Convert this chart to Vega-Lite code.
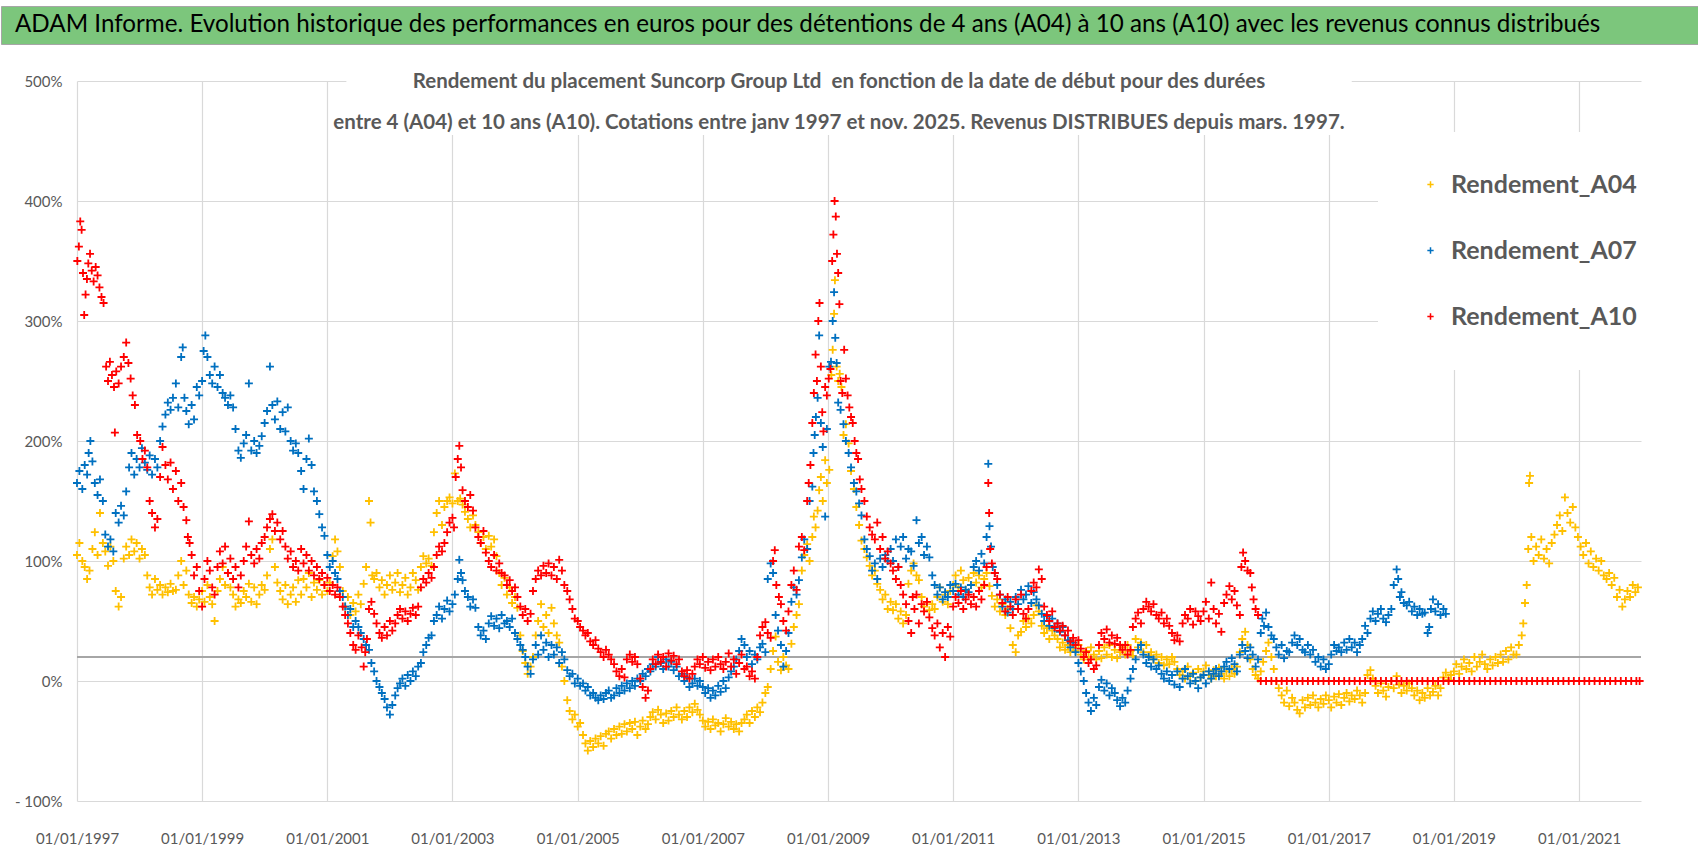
{
"$schema": "https://vega.github.io/schema/vega-lite/v6.json",
"padding": {"left": 0, "right": 0, "top": 5, "bottom": 0},
"background": "white",
"spacing": 14,
"config": {"view": {"stroke": null}, "font": "Lato"},
"datasets": {
"a04": [
{"d":"1997-01-01","v":105},{"d":"1997-01-15","v":115},{"d":"1997-02-01","v":100},{"d":"1997-02-15","v":95},{"d":"1997-03-01","v":85},{"d":"1997-03-15","v":92},{"d":"1997-04-01","v":110},{"d":"1997-04-15","v":124},{"d":"1997-05-01","v":105},{"d":"1997-05-15","v":140},{"d":"1997-06-01","v":115},{"d":"1997-06-15","v":108},{"d":"1997-07-01","v":96},{"d":"1997-07-15","v":112},{"d":"1997-08-01","v":100},{"d":"1997-08-15","v":75},{"d":"1997-09-01","v":62},{"d":"1997-09-15","v":70},{"d":"1997-10-01","v":102},{"d":"1997-10-15","v":112},{"d":"1997-11-01","v":105},{"d":"1997-11-15","v":118},{"d":"1997-12-01","v":108},{"d":"1997-12-15","v":115},
{"d":"1998-01-01","v":102},{"d":"1998-01-15","v":110},{"d":"1998-02-01","v":105},{"d":"1998-02-15","v":88},{"d":"1998-03-01","v":78},{"d":"1998-03-15","v":72},{"d":"1998-04-01","v":85},{"d":"1998-04-15","v":76},{"d":"1998-05-01","v":80},{"d":"1998-05-15","v":72},{"d":"1998-06-01","v":78},{"d":"1998-06-15","v":74},{"d":"1998-07-01","v":81},{"d":"1998-07-15","v":75},{"d":"1998-08-01","v":76},{"d":"1998-08-15","v":88},{"d":"1998-09-01","v":100},{"d":"1998-09-15","v":80},{"d":"1998-10-01","v":92},{"d":"1998-10-15","v":72},{"d":"1998-11-01","v":65},{"d":"1998-11-15","v":70},{"d":"1998-12-01","v":62},{"d":"1998-12-15","v":68},
{"d":"1999-01-01","v":75},{"d":"1999-01-15","v":66},{"d":"1999-02-01","v":80},{"d":"1999-02-15","v":70},{"d":"1999-03-01","v":64},{"d":"1999-03-15","v":50},{"d":"1999-04-01","v":75},{"d":"1999-04-15","v":85},{"d":"1999-05-01","v":95},{"d":"1999-05-15","v":80},{"d":"1999-06-01","v":90},{"d":"1999-06-15","v":78},{"d":"1999-07-01","v":72},{"d":"1999-07-15","v":62},{"d":"1999-08-01","v":68},{"d":"1999-08-15","v":65},{"d":"1999-09-01","v":75},{"d":"1999-09-15","v":70},{"d":"1999-10-01","v":81},{"d":"1999-10-15","v":66},{"d":"1999-11-01","v":78},{"d":"1999-11-15","v":64},{"d":"1999-12-01","v":72},{"d":"1999-12-15","v":80},
{"d":"2000-01-01","v":76},{"d":"2000-01-15","v":88},{"d":"2000-02-01","v":110},{"d":"2000-02-15","v":118},{"d":"2000-03-01","v":95},{"d":"2000-03-15","v":82},{"d":"2000-04-01","v":75},{"d":"2000-04-15","v":68},{"d":"2000-05-01","v":80},{"d":"2000-05-15","v":64},{"d":"2000-06-01","v":72},{"d":"2000-06-15","v":78},{"d":"2000-07-01","v":66},{"d":"2000-07-15","v":84},{"d":"2000-08-01","v":72},{"d":"2000-08-15","v":85},{"d":"2000-09-01","v":78},{"d":"2000-09-15","v":90},{"d":"2000-10-01","v":70},{"d":"2000-10-15","v":82},{"d":"2000-11-01","v":76},{"d":"2000-11-15","v":84},{"d":"2000-12-01","v":72},{"d":"2000-12-15","v":80},
{"d":"2001-01-01","v":75},{"d":"2001-01-15","v":82},{"d":"2001-02-01","v":104},{"d":"2001-02-15","v":118},{"d":"2001-03-01","v":108},{"d":"2001-03-15","v":95},{"d":"2001-04-01","v":75},{"d":"2001-04-15","v":62},{"d":"2001-05-01","v":70},{"d":"2001-05-15","v":55},{"d":"2001-06-01","v":65},{"d":"2001-06-15","v":58},{"d":"2001-07-01","v":72},{"d":"2001-07-15","v":64},{"d":"2001-08-01","v":81},{"d":"2001-08-15","v":95},{"d":"2001-09-01","v":150},{"d":"2001-09-10","v":132},{"d":"2001-09-20","v":88},{"d":"2001-10-01","v":85},{"d":"2001-10-15","v":90},{"d":"2001-11-01","v":78},{"d":"2001-11-15","v":84},{"d":"2001-12-01","v":72},{"d":"2001-12-15","v":80},
{"d":"2002-01-01","v":88},{"d":"2002-01-15","v":76},{"d":"2002-02-01","v":82},{"d":"2002-02-15","v":90},{"d":"2002-03-01","v":74},{"d":"2002-03-15","v":80},{"d":"2002-04-01","v":86},{"d":"2002-04-15","v":72},{"d":"2002-05-01","v":78},{"d":"2002-05-15","v":90},{"d":"2002-06-01","v":84},{"d":"2002-06-15","v":76},{"d":"2002-07-01","v":95},{"d":"2002-07-15","v":104},{"d":"2002-08-01","v":98},{"d":"2002-08-15","v":102},{"d":"2002-09-01","v":96},{"d":"2002-09-15","v":124},{"d":"2002-10-01","v":140},{"d":"2002-10-15","v":150},{"d":"2002-11-01","v":130},{"d":"2002-11-15","v":145},{"d":"2002-12-01","v":150},{"d":"2002-12-15","v":153},
{"d":"2003-01-01","v":148},{"d":"2003-01-15","v":173},{"d":"2003-02-01","v":150},{"d":"2003-02-15","v":152},{"d":"2003-03-01","v":147},{"d":"2003-03-15","v":141},{"d":"2003-04-01","v":135},{"d":"2003-04-15","v":128},{"d":"2003-05-01","v":138},{"d":"2003-05-15","v":130},{"d":"2003-06-01","v":124},{"d":"2003-06-15","v":115},{"d":"2003-07-01","v":120},{"d":"2003-07-15","v":110},{"d":"2003-08-01","v":121},{"d":"2003-08-15","v":112},{"d":"2003-09-01","v":118},{"d":"2003-09-15","v":104},{"d":"2003-10-01","v":90},{"d":"2003-10-15","v":80},{"d":"2003-11-01","v":86},{"d":"2003-11-15","v":72},{"d":"2003-12-01","v":78},{"d":"2003-12-15","v":65},
{"d":"2004-01-01","v":70},{"d":"2004-01-15","v":61},{"d":"2004-02-01","v":38},{"d":"2004-02-15","v":25},{"d":"2004-03-01","v":15},{"d":"2004-03-15","v":6},{"d":"2004-04-01","v":12},{"d":"2004-04-15","v":20},{"d":"2004-05-01","v":38},{"d":"2004-05-15","v":50},{"d":"2004-06-01","v":64},{"d":"2004-06-15","v":45},{"d":"2004-07-01","v":55},{"d":"2004-07-15","v":40},{"d":"2004-08-01","v":61},{"d":"2004-08-15","v":48},{"d":"2004-09-01","v":38},{"d":"2004-09-15","v":32},{"d":"2004-10-01","v":12},{"d":"2004-10-15","v":0},{"d":"2004-11-01","v":-16},{"d":"2004-11-15","v":-25},{"d":"2004-12-01","v":-32},{"d":"2004-12-15","v":-28},
{"d":"2005-01-01","v":-38},{"d":"2005-01-15","v":-35},{"d":"2005-02-01","v":-45},{"d":"2005-02-15","v":-52},{"d":"2005-03-01","v":-58},{"d":"2005-03-15","v":-50},{"d":"2005-04-01","v":-55},{"d":"2005-04-15","v":-48},{"d":"2005-05-01","v":-52},{"d":"2005-05-15","v":-46},{"d":"2005-06-01","v":-54},{"d":"2005-06-15","v":-44},{"d":"2005-07-01","v":-42},{"d":"2005-07-15","v":-48},{"d":"2005-08-01","v":-40},{"d":"2005-08-15","v":-45},{"d":"2005-09-01","v":-38},{"d":"2005-09-15","v":-44},{"d":"2005-10-01","v":-36},{"d":"2005-10-15","v":-42},{"d":"2005-11-01","v":-35},{"d":"2005-11-15","v":-40},{"d":"2005-12-01","v":-34},{"d":"2005-12-15","v":-45},
{"d":"2006-01-01","v":-38},{"d":"2006-01-15","v":-33},{"d":"2006-02-01","v":-40},{"d":"2006-02-15","v":-36},{"d":"2006-03-01","v":-30},{"d":"2006-03-15","v":-26},{"d":"2006-04-01","v":-32},{"d":"2006-04-15","v":-24},{"d":"2006-05-01","v":-28},{"d":"2006-05-15","v":-35},{"d":"2006-06-01","v":-27},{"d":"2006-06-15","v":-33},{"d":"2006-07-01","v":-25},{"d":"2006-07-15","v":-30},{"d":"2006-08-01","v":-22},{"d":"2006-08-15","v":-28},{"d":"2006-09-01","v":-32},{"d":"2006-09-15","v":-25},{"d":"2006-10-01","v":-30},{"d":"2006-10-15","v":-22},{"d":"2006-11-01","v":-26},{"d":"2006-11-15","v":-19},{"d":"2006-12-01","v":-24},{"d":"2006-12-15","v":-28},
{"d":"2007-01-01","v":-33},{"d":"2007-01-15","v":-38},{"d":"2007-02-01","v":-34},{"d":"2007-02-15","v":-40},{"d":"2007-03-01","v":-32},{"d":"2007-03-15","v":-37},{"d":"2007-04-01","v":-35},{"d":"2007-04-15","v":-42},{"d":"2007-05-01","v":-36},{"d":"2007-05-15","v":-31},{"d":"2007-06-01","v":-38},{"d":"2007-06-15","v":-34},{"d":"2007-07-01","v":-40},{"d":"2007-07-15","v":-36},{"d":"2007-08-01","v":-42},{"d":"2007-08-15","v":-35},{"d":"2007-09-01","v":-32},{"d":"2007-09-15","v":-28},{"d":"2007-10-01","v":-35},{"d":"2007-10-15","v":-25},{"d":"2007-11-01","v":-30},{"d":"2007-11-15","v":-22},{"d":"2007-12-01","v":-26},{"d":"2007-12-15","v":-18},
{"d":"2008-01-01","v":-10},{"d":"2008-01-15","v":-5},{"d":"2008-02-01","v":10},{"d":"2008-02-15","v":25},{"d":"2008-03-01","v":37},{"d":"2008-03-15","v":16},{"d":"2008-04-01","v":9},{"d":"2008-04-15","v":20},{"d":"2008-05-01","v":13},{"d":"2008-05-15","v":10},{"d":"2008-06-01","v":31},{"d":"2008-06-15","v":45},{"d":"2008-07-01","v":55},{"d":"2008-07-15","v":64},{"d":"2008-08-01","v":92},{"d":"2008-08-15","v":105},{"d":"2008-09-01","v":114},{"d":"2008-09-15","v":100},{"d":"2008-10-01","v":120},{"d":"2008-10-10","v":137},{"d":"2008-10-20","v":128},{"d":"2008-11-01","v":142},{"d":"2008-11-10","v":159},{"d":"2008-11-20","v":170},{"d":"2008-12-01","v":150},{"d":"2008-12-15","v":184},{"d":"2008-12-25","v":165},
{"d":"2009-01-08","v":176},{"d":"2009-01-20","v":255},{"d":"2009-01-28","v":276},{"d":"2009-02-05","v":306},{"d":"2009-02-10","v":334},{"d":"2009-02-20","v":262},{"d":"2009-03-01","v":250},{"d":"2009-03-10","v":256},{"d":"2009-03-20","v":245},{"d":"2009-04-01","v":205},{"d":"2009-04-15","v":214},{"d":"2009-05-01","v":198},{"d":"2009-05-15","v":175},{"d":"2009-06-01","v":160},{"d":"2009-06-15","v":145},{"d":"2009-07-01","v":130},{"d":"2009-07-15","v":117},{"d":"2009-08-01","v":110},{"d":"2009-08-15","v":103},{"d":"2009-09-01","v":96},{"d":"2009-09-15","v":88},{"d":"2009-10-01","v":92},{"d":"2009-10-15","v":81},{"d":"2009-11-01","v":76},{"d":"2009-11-15","v":68},{"d":"2009-12-01","v":72},{"d":"2009-12-15","v":60},
{"d":"2010-01-01","v":66},{"d":"2010-01-15","v":59},{"d":"2010-02-01","v":64},{"d":"2010-02-15","v":52},{"d":"2010-03-01","v":58},{"d":"2010-03-15","v":48},{"d":"2010-04-01","v":55},{"d":"2010-04-15","v":81},{"d":"2010-05-01","v":92},{"d":"2010-05-15","v":98},{"d":"2010-06-01","v":88},{"d":"2010-06-15","v":84},{"d":"2010-07-01","v":70},{"d":"2010-07-15","v":62},{"d":"2010-08-01","v":66},{"d":"2010-08-15","v":59},{"d":"2010-09-01","v":64},{"d":"2010-09-15","v":60},{"d":"2010-10-01","v":70},{"d":"2010-10-15","v":78},{"d":"2010-11-01","v":66},{"d":"2010-11-15","v":72},{"d":"2010-12-01","v":64},{"d":"2010-12-15","v":75},
{"d":"2011-01-01","v":80},{"d":"2011-01-15","v":88},{"d":"2011-02-01","v":78},{"d":"2011-02-15","v":92},{"d":"2011-03-01","v":84},{"d":"2011-03-15","v":76},{"d":"2011-04-01","v":86},{"d":"2011-04-15","v":80},{"d":"2011-05-01","v":90},{"d":"2011-05-15","v":82},{"d":"2011-06-01","v":88},{"d":"2011-06-15","v":78},{"d":"2011-07-01","v":85},{"d":"2011-07-15","v":90},{"d":"2011-08-01","v":79},{"d":"2011-08-15","v":71},{"d":"2011-09-01","v":62},{"d":"2011-09-15","v":68},{"d":"2011-10-01","v":58},{"d":"2011-10-15","v":64},{"d":"2011-11-01","v":55},{"d":"2011-11-15","v":60},{"d":"2011-12-01","v":44},{"d":"2011-12-15","v":30},
{"d":"2012-01-01","v":24},{"d":"2012-01-15","v":38},{"d":"2012-02-01","v":41},{"d":"2012-02-15","v":50},{"d":"2012-03-01","v":45},{"d":"2012-03-15","v":52},{"d":"2012-04-01","v":48},{"d":"2012-04-15","v":55},{"d":"2012-05-01","v":63},{"d":"2012-05-15","v":58},{"d":"2012-06-01","v":46},{"d":"2012-06-15","v":40},{"d":"2012-07-01","v":44},{"d":"2012-07-15","v":35},{"d":"2012-08-01","v":42},{"d":"2012-08-15","v":38},{"d":"2012-09-01","v":35},{"d":"2012-09-15","v":28},{"d":"2012-10-01","v":32},{"d":"2012-10-15","v":26},{"d":"2012-11-01","v":30},{"d":"2012-11-15","v":24},{"d":"2012-12-01","v":28},{"d":"2012-12-15","v":25},
{"d":"2013-01-01","v":30},{"d":"2013-01-15","v":22},{"d":"2013-02-01","v":18},{"d":"2013-02-15","v":25},{"d":"2013-03-01","v":20},{"d":"2013-03-15","v":28},{"d":"2013-04-01","v":22},{"d":"2013-04-15","v":18},{"d":"2013-05-01","v":25},{"d":"2013-05-15","v":19},{"d":"2013-06-01","v":28},{"d":"2013-06-15","v":22},{"d":"2013-07-01","v":30},{"d":"2013-07-15","v":20},{"d":"2013-08-01","v":26},{"d":"2013-08-15","v":19},{"d":"2013-09-01","v":24},{"d":"2013-09-15","v":28},{"d":"2013-10-01","v":22},{"d":"2013-10-15","v":30},{"d":"2013-11-01","v":25},{"d":"2013-11-15","v":21},{"d":"2013-12-01","v":35},{"d":"2013-12-15","v":28},
{"d":"2014-01-01","v":32},{"d":"2014-01-15","v":24},{"d":"2014-02-01","v":30},{"d":"2014-02-15","v":21},{"d":"2014-03-01","v":24},{"d":"2014-03-15","v":18},{"d":"2014-04-01","v":22},{"d":"2014-04-15","v":15},{"d":"2014-05-01","v":20},{"d":"2014-05-15","v":13},{"d":"2014-06-01","v":18},{"d":"2014-06-15","v":14},{"d":"2014-07-01","v":20},{"d":"2014-07-15","v":16},{"d":"2014-08-01","v":10},{"d":"2014-08-15","v":5},{"d":"2014-09-01","v":8},{"d":"2014-09-15","v":2},{"d":"2014-10-01","v":12},{"d":"2014-10-15","v":4},{"d":"2014-11-01","v":7},{"d":"2014-11-15","v":0},{"d":"2014-12-01","v":10},{"d":"2014-12-15","v":3},
{"d":"2015-01-01","v":8},{"d":"2015-01-15","v":13},{"d":"2015-02-01","v":5},{"d":"2015-02-15","v":2},{"d":"2015-03-01","v":9},{"d":"2015-03-15","v":4},{"d":"2015-04-01","v":11},{"d":"2015-04-15","v":6},{"d":"2015-05-01","v":2},{"d":"2015-05-15","v":8},{"d":"2015-06-01","v":4},{"d":"2015-06-15","v":10},{"d":"2015-07-01","v":6},{"d":"2015-07-15","v":12},{"d":"2015-08-01","v":24},{"d":"2015-08-15","v":35},{"d":"2015-09-01","v":41},{"d":"2015-09-15","v":30},{"d":"2015-10-01","v":18},{"d":"2015-10-15","v":10},{"d":"2015-11-01","v":5},{"d":"2015-11-15","v":2},{"d":"2015-12-01","v":8},{"d":"2015-12-15","v":16},
{"d":"2016-01-01","v":25},{"d":"2016-01-15","v":32},{"d":"2016-02-01","v":20},{"d":"2016-02-15","v":10},{"d":"2016-03-01","v":0},{"d":"2016-03-15","v":-6},{"d":"2016-04-01","v":-12},{"d":"2016-04-15","v":-18},{"d":"2016-05-01","v":-8},{"d":"2016-05-15","v":-21},{"d":"2016-06-01","v":-14},{"d":"2016-06-15","v":-18},{"d":"2016-07-01","v":-24},{"d":"2016-07-15","v":-27},{"d":"2016-08-01","v":-16},{"d":"2016-08-15","v":-22},{"d":"2016-09-01","v":-14},{"d":"2016-09-15","v":-20},{"d":"2016-10-01","v":-12},{"d":"2016-10-15","v":-18},{"d":"2016-11-01","v":-22},{"d":"2016-11-15","v":-15},{"d":"2016-12-01","v":-19},{"d":"2016-12-15","v":-12},
{"d":"2017-01-01","v":-16},{"d":"2017-01-15","v":-22},{"d":"2017-02-01","v":-13},{"d":"2017-02-15","v":-18},{"d":"2017-03-01","v":-11},{"d":"2017-03-15","v":-20},{"d":"2017-04-01","v":-14},{"d":"2017-04-15","v":-10},{"d":"2017-05-01","v":-17},{"d":"2017-05-15","v":-12},{"d":"2017-06-01","v":-15},{"d":"2017-06-15","v":-8},{"d":"2017-07-01","v":-12},{"d":"2017-07-15","v":-18},{"d":"2017-08-01","v":-10},{"d":"2017-08-15","v":5},{"d":"2017-09-01","v":9},{"d":"2017-09-15","v":2},{"d":"2017-10-01","v":-4},{"d":"2017-10-15","v":-10},{"d":"2017-11-01","v":-2},{"d":"2017-11-15","v":-8},{"d":"2017-12-01","v":-13},{"d":"2017-12-15","v":-5},
{"d":"2018-01-01","v":0},{"d":"2018-01-15","v":-6},{"d":"2018-02-01","v":4},{"d":"2018-02-15","v":-3},{"d":"2018-03-01","v":-10},{"d":"2018-03-15","v":-4},{"d":"2018-04-01","v":-8},{"d":"2018-04-15","v":-2},{"d":"2018-05-01","v":-6},{"d":"2018-05-15","v":-12},{"d":"2018-06-01","v":-8},{"d":"2018-06-15","v":-16},{"d":"2018-07-01","v":-10},{"d":"2018-07-15","v":-14},{"d":"2018-08-01","v":-6},{"d":"2018-08-15","v":-12},{"d":"2018-09-01","v":-9},{"d":"2018-09-15","v":-4},{"d":"2018-10-01","v":-12},{"d":"2018-10-15","v":-6},{"d":"2018-11-01","v":3},{"d":"2018-11-15","v":7},{"d":"2018-12-01","v":1},{"d":"2018-12-15","v":5},
{"d":"2019-01-01","v":8},{"d":"2019-01-15","v":14},{"d":"2019-02-01","v":6},{"d":"2019-02-15","v":12},{"d":"2019-03-01","v":18},{"d":"2019-03-15","v":10},{"d":"2019-04-01","v":15},{"d":"2019-04-15","v":8},{"d":"2019-05-01","v":20},{"d":"2019-05-15","v":12},{"d":"2019-06-01","v":16},{"d":"2019-06-15","v":22},{"d":"2019-07-01","v":14},{"d":"2019-07-15","v":10},{"d":"2019-08-01","v":18},{"d":"2019-08-15","v":13},{"d":"2019-09-01","v":20},{"d":"2019-09-15","v":15},{"d":"2019-10-01","v":22},{"d":"2019-10-15","v":16},{"d":"2019-11-01","v":25},{"d":"2019-11-15","v":18},{"d":"2019-12-01","v":28},{"d":"2019-12-15","v":22},
{"d":"2020-01-01","v":22},{"d":"2020-01-15","v":30},{"d":"2020-02-01","v":38},{"d":"2020-02-10","v":48},{"d":"2020-02-20","v":65},{"d":"2020-03-01","v":80},{"d":"2020-03-10","v":110},{"d":"2020-03-15","v":165},{"d":"2020-03-20","v":171},{"d":"2020-03-28","v":120},{"d":"2020-04-10","v":100},{"d":"2020-04-25","v":112},{"d":"2020-05-10","v":105},{"d":"2020-05-25","v":118},{"d":"2020-06-10","v":102},{"d":"2020-06-25","v":110},{"d":"2020-07-10","v":98},{"d":"2020-07-25","v":115},{"d":"2020-08-10","v":122},{"d":"2020-08-25","v":130},{"d":"2020-09-10","v":138},{"d":"2020-09-25","v":125},{"d":"2020-10-10","v":153},{"d":"2020-10-25","v":140},{"d":"2020-11-10","v":132},{"d":"2020-11-25","v":145},{"d":"2020-12-10","v":128},{"d":"2020-12-25","v":120},
{"d":"2021-01-10","v":112},{"d":"2021-01-25","v":105},{"d":"2021-02-10","v":115},{"d":"2021-02-25","v":98},{"d":"2021-03-10","v":108},{"d":"2021-03-25","v":95},{"d":"2021-04-10","v":102},{"d":"2021-04-25","v":92},{"d":"2021-05-10","v":100},{"d":"2021-05-25","v":88},{"d":"2021-06-10","v":85},{"d":"2021-06-25","v":90},{"d":"2021-07-10","v":80},{"d":"2021-07-25","v":86},{"d":"2021-08-10","v":70},{"d":"2021-08-25","v":76},{"d":"2021-09-10","v":62},{"d":"2021-09-25","v":68},{"d":"2021-10-10","v":75},{"d":"2021-10-25","v":70},{"d":"2021-11-10","v":80},{"d":"2021-11-25","v":74},{"d":"2021-12-10","v":78}
],
"a07": [
{"d":"1997-01-01","v":165},{"d":"1997-01-15","v":175},{"d":"1997-02-01","v":160},{"d":"1997-02-15","v":180},{"d":"1997-03-01","v":172},{"d":"1997-03-10","v":190},{"d":"1997-03-20","v":200},{"d":"1997-04-01","v":183},{"d":"1997-04-15","v":165},{"d":"1997-05-01","v":155},{"d":"1997-05-15","v":168},{"d":"1997-06-01","v":150},{"d":"1997-06-15","v":122},{"d":"1997-07-01","v":112},{"d":"1997-07-15","v":118},{"d":"1997-08-01","v":108},{"d":"1997-08-15","v":140},{"d":"1997-09-01","v":132},{"d":"1997-09-15","v":146},{"d":"1997-10-01","v":138},{"d":"1997-10-15","v":158},{"d":"1997-11-01","v":178},{"d":"1997-11-15","v":190},{"d":"1997-12-01","v":172},{"d":"1997-12-15","v":185},
{"d":"1998-01-01","v":178},{"d":"1998-01-15","v":194},{"d":"1998-02-01","v":182},{"d":"1998-02-15","v":176},{"d":"1998-03-01","v":188},{"d":"1998-03-15","v":172},{"d":"1998-04-01","v":185},{"d":"1998-04-15","v":178},{"d":"1998-05-01","v":200},{"d":"1998-05-15","v":212},{"d":"1998-06-01","v":222},{"d":"1998-06-15","v":232},{"d":"1998-07-01","v":226},{"d":"1998-07-15","v":236},{"d":"1998-08-01","v":248},{"d":"1998-08-15","v":228},{"d":"1998-09-01","v":270},{"d":"1998-09-10","v":278},{"d":"1998-09-20","v":236},{"d":"1998-10-01","v":225},{"d":"1998-10-15","v":214},{"d":"1998-11-01","v":230},{"d":"1998-11-15","v":218},{"d":"1998-12-01","v":245},{"d":"1998-12-15","v":238},
{"d":"1999-01-01","v":250},{"d":"1999-01-10","v":275},{"d":"1999-01-20","v":288},{"d":"1999-02-01","v":270},{"d":"1999-02-15","v":255},{"d":"1999-03-01","v":248},{"d":"1999-03-15","v":262},{"d":"1999-04-01","v":245},{"d":"1999-04-15","v":255},{"d":"1999-05-01","v":240},{"d":"1999-05-15","v":236},{"d":"1999-06-01","v":230},{"d":"1999-06-15","v":238},{"d":"1999-07-01","v":228},{"d":"1999-07-15","v":210},{"d":"1999-08-01","v":192},{"d":"1999-08-15","v":186},{"d":"1999-09-01","v":198},{"d":"1999-09-15","v":205},{"d":"1999-10-01","v":248},{"d":"1999-10-15","v":192},{"d":"1999-11-01","v":200},{"d":"1999-11-15","v":190},{"d":"1999-12-01","v":196},{"d":"1999-12-15","v":204},
{"d":"2000-01-01","v":215},{"d":"2000-01-15","v":225},{"d":"2000-02-01","v":262},{"d":"2000-02-15","v":230},{"d":"2000-03-01","v":218},{"d":"2000-03-15","v":233},{"d":"2000-04-01","v":210},{"d":"2000-04-15","v":224},{"d":"2000-05-01","v":208},{"d":"2000-05-15","v":228},{"d":"2000-06-01","v":200},{"d":"2000-06-15","v":192},{"d":"2000-07-01","v":198},{"d":"2000-07-15","v":190},{"d":"2000-08-01","v":175},{"d":"2000-08-15","v":160},{"d":"2000-09-01","v":185},{"d":"2000-09-15","v":202},{"d":"2000-10-01","v":180},{"d":"2000-10-15","v":158},{"d":"2000-11-01","v":150},{"d":"2000-11-15","v":139},{"d":"2000-12-01","v":128},{"d":"2000-12-15","v":121},
{"d":"2001-01-01","v":105},{"d":"2001-01-15","v":95},{"d":"2001-02-01","v":100},{"d":"2001-02-15","v":90},{"d":"2001-03-01","v":85},{"d":"2001-03-15","v":75},{"d":"2001-04-01","v":70},{"d":"2001-04-15","v":62},{"d":"2001-05-01","v":55},{"d":"2001-05-15","v":60},{"d":"2001-06-01","v":45},{"d":"2001-06-15","v":50},{"d":"2001-07-01","v":45},{"d":"2001-07-15","v":40},{"d":"2001-08-01","v":35},{"d":"2001-08-15","v":30},{"d":"2001-09-01","v":26},{"d":"2001-09-15","v":15},{"d":"2001-10-01","v":8},{"d":"2001-10-15","v":0},{"d":"2001-11-01","v":-5},{"d":"2001-11-15","v":-10},{"d":"2001-12-01","v":-15},{"d":"2001-12-15","v":-22},
{"d":"2002-01-01","v":-28},{"d":"2002-01-15","v":-20},{"d":"2002-02-01","v":-12},{"d":"2002-02-15","v":-6},{"d":"2002-03-01","v":-2},{"d":"2002-03-15","v":2},{"d":"2002-04-01","v":-4},{"d":"2002-04-15","v":5},{"d":"2002-05-01","v":0},{"d":"2002-05-15","v":8},{"d":"2002-06-01","v":4},{"d":"2002-06-15","v":12},{"d":"2002-07-01","v":15},{"d":"2002-07-15","v":24},{"d":"2002-08-01","v":30},{"d":"2002-08-15","v":36},{"d":"2002-09-01","v":38},{"d":"2002-09-15","v":50},{"d":"2002-10-01","v":55},{"d":"2002-10-15","v":62},{"d":"2002-11-01","v":52},{"d":"2002-11-15","v":60},{"d":"2002-12-01","v":67},{"d":"2002-12-15","v":58},
{"d":"2003-01-01","v":64},{"d":"2003-01-15","v":72},{"d":"2003-02-01","v":85},{"d":"2003-02-10","v":101},{"d":"2003-02-20","v":90},{"d":"2003-03-01","v":84},{"d":"2003-03-15","v":75},{"d":"2003-04-01","v":70},{"d":"2003-04-15","v":62},{"d":"2003-05-01","v":68},{"d":"2003-05-15","v":61},{"d":"2003-06-01","v":45},{"d":"2003-06-15","v":38},{"d":"2003-07-01","v":42},{"d":"2003-07-15","v":35},{"d":"2003-08-01","v":48},{"d":"2003-08-15","v":54},{"d":"2003-09-01","v":46},{"d":"2003-09-15","v":52},{"d":"2003-10-01","v":44},{"d":"2003-10-15","v":55},{"d":"2003-11-01","v":48},{"d":"2003-11-15","v":50},{"d":"2003-12-01","v":45},{"d":"2003-12-15","v":52},
{"d":"2004-01-01","v":40},{"d":"2004-01-15","v":35},{"d":"2004-02-01","v":30},{"d":"2004-02-15","v":26},{"d":"2004-03-01","v":20},{"d":"2004-03-15","v":12},{"d":"2004-04-01","v":6},{"d":"2004-04-15","v":18},{"d":"2004-05-01","v":30},{"d":"2004-05-15","v":22},{"d":"2004-06-01","v":38},{"d":"2004-06-15","v":26},{"d":"2004-07-01","v":32},{"d":"2004-07-15","v":20},{"d":"2004-08-01","v":30},{"d":"2004-08-15","v":22},{"d":"2004-09-01","v":28},{"d":"2004-09-15","v":15},{"d":"2004-10-01","v":24},{"d":"2004-10-15","v":18},{"d":"2004-11-01","v":9},{"d":"2004-11-15","v":4},{"d":"2004-12-01","v":6},{"d":"2004-12-15","v":-2},
{"d":"2005-01-01","v":2},{"d":"2005-01-15","v":-4},{"d":"2005-02-01","v":-2},{"d":"2005-02-15","v":-8},{"d":"2005-03-01","v":-5},{"d":"2005-03-15","v":-12},{"d":"2005-04-01","v":-10},{"d":"2005-04-15","v":-14},{"d":"2005-05-01","v":-16},{"d":"2005-05-15","v":-12},{"d":"2005-06-01","v":-15},{"d":"2005-06-15","v":-10},{"d":"2005-07-01","v":-8},{"d":"2005-07-15","v":-14},{"d":"2005-08-01","v":-12},{"d":"2005-08-15","v":-6},{"d":"2005-09-01","v":-10},{"d":"2005-09-15","v":-4},{"d":"2005-10-01","v":-8},{"d":"2005-10-15","v":-2},{"d":"2005-11-01","v":-6},{"d":"2005-11-15","v":0},{"d":"2005-12-01","v":-4},{"d":"2005-12-15","v":2},
{"d":"2006-01-01","v":0},{"d":"2006-01-15","v":6},{"d":"2006-02-01","v":4},{"d":"2006-02-15","v":10},{"d":"2006-03-01","v":8},{"d":"2006-03-15","v":14},{"d":"2006-04-01","v":12},{"d":"2006-04-15","v":20},{"d":"2006-05-01","v":15},{"d":"2006-05-15","v":10},{"d":"2006-06-01","v":18},{"d":"2006-06-15","v":12},{"d":"2006-07-01","v":16},{"d":"2006-07-15","v":9},{"d":"2006-08-01","v":12},{"d":"2006-08-15","v":4},{"d":"2006-09-01","v":6},{"d":"2006-09-15","v":0},{"d":"2006-10-01","v":3},{"d":"2006-10-15","v":-5},{"d":"2006-11-01","v":-2},{"d":"2006-11-15","v":2},{"d":"2006-12-01","v":-4},{"d":"2006-12-15","v":0},
{"d":"2007-01-01","v":-5},{"d":"2007-01-15","v":-10},{"d":"2007-02-01","v":-6},{"d":"2007-02-15","v":-14},{"d":"2007-03-01","v":-8},{"d":"2007-03-15","v":-12},{"d":"2007-04-01","v":-4},{"d":"2007-04-15","v":-9},{"d":"2007-05-01","v":0},{"d":"2007-05-15","v":-6},{"d":"2007-06-01","v":3},{"d":"2007-06-15","v":8},{"d":"2007-07-01","v":12},{"d":"2007-07-15","v":18},{"d":"2007-08-01","v":25},{"d":"2007-08-15","v":35},{"d":"2007-09-01","v":30},{"d":"2007-09-15","v":20},{"d":"2007-10-01","v":25},{"d":"2007-10-15","v":14},{"d":"2007-11-01","v":22},{"d":"2007-11-15","v":18},{"d":"2007-12-01","v":28},{"d":"2007-12-15","v":31},
{"d":"2008-01-01","v":24},{"d":"2008-01-15","v":85},{"d":"2008-02-01","v":98},{"d":"2008-02-15","v":90},{"d":"2008-03-01","v":55},{"d":"2008-03-15","v":42},{"d":"2008-04-01","v":30},{"d":"2008-04-15","v":12},{"d":"2008-05-01","v":25},{"d":"2008-05-15","v":40},{"d":"2008-06-01","v":66},{"d":"2008-06-15","v":78},{"d":"2008-07-01","v":72},{"d":"2008-07-15","v":84},{"d":"2008-08-01","v":103},{"d":"2008-08-15","v":118},{"d":"2008-09-01","v":110},{"d":"2008-09-15","v":150},{"d":"2008-10-01","v":162},{"d":"2008-10-08","v":190},{"d":"2008-10-15","v":205},{"d":"2008-10-22","v":220},{"d":"2008-11-01","v":236},{"d":"2008-11-10","v":288},{"d":"2008-11-20","v":215},{"d":"2008-12-01","v":195},{"d":"2008-12-15","v":137},{"d":"2008-12-25","v":210},
{"d":"2009-01-08","v":262},{"d":"2009-01-18","v":266},{"d":"2009-01-28","v":300},{"d":"2009-02-05","v":324},{"d":"2009-02-12","v":286},{"d":"2009-02-20","v":265},{"d":"2009-03-01","v":232},{"d":"2009-03-15","v":226},{"d":"2009-04-01","v":214},{"d":"2009-04-15","v":200},{"d":"2009-05-01","v":190},{"d":"2009-05-15","v":178},{"d":"2009-06-01","v":165},{"d":"2009-06-15","v":158},{"d":"2009-07-01","v":148},{"d":"2009-07-15","v":138},{"d":"2009-08-01","v":118},{"d":"2009-08-15","v":110},{"d":"2009-09-01","v":104},{"d":"2009-09-15","v":92},{"d":"2009-10-01","v":98},{"d":"2009-10-15","v":85},{"d":"2009-11-01","v":102},{"d":"2009-11-15","v":95},{"d":"2009-12-01","v":105},{"d":"2009-12-15","v":100},
{"d":"2010-01-01","v":110},{"d":"2010-01-15","v":100},{"d":"2010-02-01","v":118},{"d":"2010-02-15","v":95},{"d":"2010-03-01","v":112},{"d":"2010-03-15","v":120},{"d":"2010-04-01","v":102},{"d":"2010-04-15","v":110},{"d":"2010-05-01","v":108},{"d":"2010-05-15","v":96},{"d":"2010-06-01","v":134},{"d":"2010-06-15","v":115},{"d":"2010-07-01","v":120},{"d":"2010-07-15","v":105},{"d":"2010-08-01","v":112},{"d":"2010-08-15","v":103},{"d":"2010-09-01","v":88},{"d":"2010-09-15","v":80},{"d":"2010-10-01","v":72},{"d":"2010-10-15","v":78},{"d":"2010-11-01","v":68},{"d":"2010-11-15","v":74},{"d":"2010-12-01","v":70},{"d":"2010-12-15","v":80},
{"d":"2011-01-01","v":75},{"d":"2011-01-15","v":81},{"d":"2011-02-01","v":72},{"d":"2011-02-15","v":78},{"d":"2011-03-01","v":70},{"d":"2011-03-15","v":76},{"d":"2011-04-01","v":74},{"d":"2011-04-15","v":80},{"d":"2011-05-01","v":95},{"d":"2011-05-15","v":100},{"d":"2011-06-01","v":92},{"d":"2011-06-15","v":106},{"d":"2011-07-01","v":98},{"d":"2011-07-15","v":120},{"d":"2011-07-25","v":181},{"d":"2011-08-01","v":129},{"d":"2011-08-10","v":112},{"d":"2011-08-20","v":95},{"d":"2011-09-01","v":90},{"d":"2011-09-15","v":80},{"d":"2011-10-01","v":72},{"d":"2011-10-15","v":62},{"d":"2011-11-01","v":68},{"d":"2011-11-15","v":57},{"d":"2011-12-01","v":66},{"d":"2011-12-15","v":60},
{"d":"2012-01-01","v":70},{"d":"2012-01-15","v":64},{"d":"2012-02-01","v":76},{"d":"2012-02-15","v":68},{"d":"2012-03-01","v":72},{"d":"2012-03-15","v":79},{"d":"2012-04-01","v":65},{"d":"2012-04-15","v":74},{"d":"2012-05-01","v":68},{"d":"2012-05-15","v":63},{"d":"2012-06-01","v":56},{"d":"2012-06-15","v":50},{"d":"2012-07-01","v":54},{"d":"2012-07-15","v":46},{"d":"2012-08-01","v":52},{"d":"2012-08-15","v":44},{"d":"2012-09-01","v":48},{"d":"2012-09-15","v":41},{"d":"2012-10-01","v":45},{"d":"2012-10-15","v":38},{"d":"2012-11-01","v":34},{"d":"2012-11-15","v":28},{"d":"2012-12-01","v":32},{"d":"2012-12-15","v":24},
{"d":"2013-01-01","v":15},{"d":"2013-01-15","v":8},{"d":"2013-02-01","v":0},{"d":"2013-02-15","v":-10},{"d":"2013-03-01","v":-18},{"d":"2013-03-15","v":-25},{"d":"2013-04-01","v":-14},{"d":"2013-04-15","v":-20},{"d":"2013-05-01","v":-5},{"d":"2013-05-15","v":1},{"d":"2013-06-01","v":-8},{"d":"2013-06-15","v":-2},{"d":"2013-07-01","v":-12},{"d":"2013-07-15","v":-6},{"d":"2013-08-01","v":-10},{"d":"2013-08-15","v":-16},{"d":"2013-09-01","v":-21},{"d":"2013-09-15","v":-14},{"d":"2013-10-01","v":-18},{"d":"2013-10-15","v":-8},{"d":"2013-11-01","v":2},{"d":"2013-11-15","v":10},{"d":"2013-12-01","v":18},{"d":"2013-12-15","v":26},
{"d":"2014-01-01","v":30},{"d":"2014-01-15","v":22},{"d":"2014-02-01","v":15},{"d":"2014-02-15","v":20},{"d":"2014-03-01","v":12},{"d":"2014-03-15","v":18},{"d":"2014-04-01","v":10},{"d":"2014-04-15","v":13},{"d":"2014-05-01","v":6},{"d":"2014-05-15","v":2},{"d":"2014-06-01","v":8},{"d":"2014-06-15","v":0},{"d":"2014-07-01","v":5},{"d":"2014-07-15","v":-3},{"d":"2014-08-01","v":8},{"d":"2014-08-15","v":-5},{"d":"2014-09-01","v":2},{"d":"2014-09-15","v":10},{"d":"2014-10-01","v":4},{"d":"2014-10-15","v":-2},{"d":"2014-11-01","v":6},{"d":"2014-11-15","v":0},{"d":"2014-12-01","v":-6},{"d":"2014-12-15","v":3},
{"d":"2015-01-01","v":5},{"d":"2015-01-15","v":-2},{"d":"2015-02-01","v":8},{"d":"2015-02-15","v":2},{"d":"2015-03-01","v":6},{"d":"2015-03-15","v":10},{"d":"2015-04-01","v":4},{"d":"2015-04-15","v":8},{"d":"2015-05-01","v":12},{"d":"2015-05-15","v":16},{"d":"2015-06-01","v":10},{"d":"2015-06-15","v":19},{"d":"2015-07-01","v":14},{"d":"2015-07-15","v":8},{"d":"2015-08-01","v":22},{"d":"2015-08-15","v":30},{"d":"2015-09-01","v":25},{"d":"2015-09-15","v":19},{"d":"2015-10-01","v":28},{"d":"2015-10-15","v":22},{"d":"2015-11-01","v":12},{"d":"2015-11-15","v":18},{"d":"2015-12-01","v":40},{"d":"2015-12-10","v":52},{"d":"2015-12-20","v":46},
{"d":"2016-01-01","v":57},{"d":"2016-01-15","v":45},{"d":"2016-02-01","v":38},{"d":"2016-02-15","v":35},{"d":"2016-03-01","v":28},{"d":"2016-03-15","v":22},{"d":"2016-04-01","v":30},{"d":"2016-04-15","v":19},{"d":"2016-05-01","v":25},{"d":"2016-05-15","v":24},{"d":"2016-06-01","v":32},{"d":"2016-06-15","v":38},{"d":"2016-07-01","v":30},{"d":"2016-07-15","v":35},{"d":"2016-08-01","v":26},{"d":"2016-08-15","v":24},{"d":"2016-09-01","v":30},{"d":"2016-09-15","v":22},{"d":"2016-10-01","v":26},{"d":"2016-10-15","v":16},{"d":"2016-11-01","v":20},{"d":"2016-11-15","v":12},{"d":"2016-12-01","v":18},{"d":"2016-12-15","v":10},
{"d":"2017-01-01","v":14},{"d":"2017-01-15","v":22},{"d":"2017-02-01","v":30},{"d":"2017-02-15","v":25},{"d":"2017-03-01","v":28},{"d":"2017-03-15","v":24},{"d":"2017-04-01","v":32},{"d":"2017-04-15","v":26},{"d":"2017-05-01","v":35},{"d":"2017-05-15","v":28},{"d":"2017-06-01","v":32},{"d":"2017-06-15","v":24},{"d":"2017-07-01","v":30},{"d":"2017-07-15","v":35},{"d":"2017-08-01","v":46},{"d":"2017-08-15","v":40},{"d":"2017-09-01","v":52},{"d":"2017-09-15","v":58},{"d":"2017-10-01","v":50},{"d":"2017-10-15","v":56},{"d":"2017-11-01","v":60},{"d":"2017-11-15","v":52},{"d":"2017-12-01","v":49},{"d":"2017-12-15","v":55},
{"d":"2018-01-01","v":60},{"d":"2018-01-15","v":80},{"d":"2018-02-01","v":93},{"d":"2018-02-10","v":85},{"d":"2018-02-20","v":70},{"d":"2018-03-01","v":74},{"d":"2018-03-15","v":65},{"d":"2018-04-01","v":63},{"d":"2018-04-15","v":66},{"d":"2018-05-01","v":58},{"d":"2018-05-15","v":62},{"d":"2018-06-01","v":55},{"d":"2018-06-15","v":60},{"d":"2018-07-01","v":56},{"d":"2018-07-15","v":57},{"d":"2018-08-01","v":40},{"d":"2018-08-10","v":45},{"d":"2018-08-20","v":60},{"d":"2018-09-01","v":68},{"d":"2018-09-15","v":58},{"d":"2018-10-01","v":64},{"d":"2018-10-15","v":55},{"d":"2018-11-01","v":60},{"d":"2018-11-15","v":56}
],
"a10": [
{"d":"1997-01-03","v":350},{"d":"1997-01-12","v":362},{"d":"1997-01-20","v":383},{"d":"1997-01-28","v":376},{"d":"1997-02-05","v":340},{"d":"1997-02-12","v":305},{"d":"1997-02-20","v":322},{"d":"1997-02-28","v":335},{"d":"1997-03-08","v":348},{"d":"1997-03-18","v":356},{"d":"1997-03-28","v":342},{"d":"1997-04-08","v":333},{"d":"1997-04-20","v":345},{"d":"1997-05-01","v":338},{"d":"1997-05-12","v":328},{"d":"1997-05-24","v":320},{"d":"1997-06-05","v":315},{"d":"1997-06-20","v":262},{"d":"1997-07-01","v":250},{"d":"1997-07-12","v":266},{"d":"1997-07-24","v":255},{"d":"1997-08-05","v":245},{"d":"1997-08-10","v":207},{"d":"1997-08-18","v":258},{"d":"1997-09-01","v":248},{"d":"1997-09-15","v":262},{"d":"1997-10-01","v":270},{"d":"1997-10-15","v":282},{"d":"1997-10-28","v":265},{"d":"1997-11-10","v":252},{"d":"1997-11-22","v":238},{"d":"1997-12-05","v":230},{"d":"1997-12-18","v":205},
{"d":"1998-01-05","v":200},{"d":"1998-01-18","v":185},{"d":"1998-02-01","v":192},{"d":"1998-02-15","v":178},{"d":"1998-03-01","v":150},{"d":"1998-03-15","v":140},{"d":"1998-04-01","v":128},{"d":"1998-04-15","v":135},{"d":"1998-05-01","v":170},{"d":"1998-05-15","v":195},{"d":"1998-06-01","v":180},{"d":"1998-06-15","v":168},{"d":"1998-07-01","v":182},{"d":"1998-07-15","v":160},{"d":"1998-08-01","v":175},{"d":"1998-08-15","v":150},{"d":"1998-09-01","v":165},{"d":"1998-09-15","v":145},{"d":"1998-10-01","v":134},{"d":"1998-10-10","v":120},{"d":"1998-10-20","v":115},{"d":"1998-11-01","v":105},{"d":"1998-11-15","v":88},{"d":"1998-12-01","v":95},{"d":"1998-12-15","v":75},
{"d":"1999-01-01","v":62},{"d":"1999-01-15","v":85},{"d":"1999-02-01","v":100},{"d":"1999-02-15","v":92},{"d":"1999-03-01","v":78},{"d":"1999-03-15","v":72},{"d":"1999-04-01","v":95},{"d":"1999-04-15","v":108},{"d":"1999-05-01","v":98},{"d":"1999-05-15","v":112},{"d":"1999-06-01","v":90},{"d":"1999-06-15","v":102},{"d":"1999-07-01","v":85},{"d":"1999-07-15","v":95},{"d":"1999-08-01","v":78},{"d":"1999-08-15","v":88},{"d":"1999-09-01","v":100},{"d":"1999-09-15","v":112},{"d":"1999-10-01","v":133},{"d":"1999-10-15","v":105},{"d":"1999-11-01","v":98},{"d":"1999-11-15","v":110},{"d":"1999-12-01","v":102},{"d":"1999-12-15","v":115},
{"d":"2000-01-01","v":120},{"d":"2000-01-15","v":128},{"d":"2000-02-01","v":135},{"d":"2000-02-15","v":139},{"d":"2000-03-01","v":125},{"d":"2000-03-15","v":132},{"d":"2000-04-01","v":118},{"d":"2000-04-15","v":125},{"d":"2000-05-01","v":112},{"d":"2000-05-15","v":102},{"d":"2000-06-01","v":108},{"d":"2000-06-15","v":95},{"d":"2000-07-01","v":100},{"d":"2000-07-15","v":92},{"d":"2000-08-01","v":110},{"d":"2000-08-15","v":98},{"d":"2000-09-01","v":105},{"d":"2000-09-15","v":92},{"d":"2000-10-01","v":100},{"d":"2000-10-15","v":88},{"d":"2000-11-01","v":95},{"d":"2000-11-15","v":85},{"d":"2000-12-01","v":90},{"d":"2000-12-15","v":80},
{"d":"2001-01-01","v":86},{"d":"2001-01-15","v":75},{"d":"2001-02-01","v":80},{"d":"2001-02-15","v":72},{"d":"2001-03-01","v":78},{"d":"2001-03-15","v":70},{"d":"2001-04-01","v":62},{"d":"2001-04-15","v":55},{"d":"2001-05-01","v":48},{"d":"2001-05-15","v":40},{"d":"2001-06-01","v":30},{"d":"2001-06-15","v":26},{"d":"2001-07-01","v":38},{"d":"2001-07-20","v":28},{"d":"2001-08-01","v":12},{"d":"2001-08-10","v":24},{"d":"2001-08-20","v":35},{"d":"2001-09-01","v":60},{"d":"2001-09-15","v":66},{"d":"2001-10-01","v":56},{"d":"2001-10-15","v":48},{"d":"2001-11-01","v":40},{"d":"2001-11-15","v":36},{"d":"2001-12-01","v":45},{"d":"2001-12-15","v":38},
{"d":"2002-01-01","v":50},{"d":"2002-01-15","v":42},{"d":"2002-02-01","v":48},{"d":"2002-02-15","v":55},{"d":"2002-03-01","v":60},{"d":"2002-03-15","v":52},{"d":"2002-04-01","v":58},{"d":"2002-04-15","v":50},{"d":"2002-05-01","v":56},{"d":"2002-05-15","v":61},{"d":"2002-06-01","v":55},{"d":"2002-06-15","v":62},{"d":"2002-07-01","v":78},{"d":"2002-07-15","v":85},{"d":"2002-08-01","v":82},{"d":"2002-08-15","v":90},{"d":"2002-09-01","v":86},{"d":"2002-09-15","v":95},{"d":"2002-10-01","v":105},{"d":"2002-10-15","v":112},{"d":"2002-11-01","v":108},{"d":"2002-11-15","v":115},{"d":"2002-12-01","v":124},{"d":"2002-12-15","v":132},
{"d":"2003-01-01","v":136},{"d":"2003-01-10","v":128},{"d":"2003-01-20","v":170},{"d":"2003-02-01","v":185},{"d":"2003-02-10","v":196},{"d":"2003-02-20","v":178},{"d":"2003-03-01","v":159},{"d":"2003-03-15","v":150},{"d":"2003-04-01","v":145},{"d":"2003-04-15","v":155},{"d":"2003-05-01","v":142},{"d":"2003-05-15","v":128},{"d":"2003-06-01","v":120},{"d":"2003-06-15","v":115},{"d":"2003-07-01","v":125},{"d":"2003-07-15","v":107},{"d":"2003-08-01","v":100},{"d":"2003-08-15","v":95},{"d":"2003-09-01","v":105},{"d":"2003-09-15","v":92},{"d":"2003-10-01","v":98},{"d":"2003-10-15","v":90},{"d":"2003-11-01","v":88},{"d":"2003-11-15","v":80},{"d":"2003-12-01","v":84},{"d":"2003-12-15","v":75},
{"d":"2004-01-01","v":78},{"d":"2004-01-15","v":70},{"d":"2004-02-01","v":62},{"d":"2004-02-15","v":55},{"d":"2004-03-01","v":60},{"d":"2004-03-15","v":50},{"d":"2004-04-01","v":56},{"d":"2004-04-15","v":75},{"d":"2004-05-01","v":85},{"d":"2004-05-15","v":92},{"d":"2004-06-01","v":88},{"d":"2004-06-15","v":96},{"d":"2004-07-01","v":90},{"d":"2004-07-15","v":98},{"d":"2004-08-01","v":88},{"d":"2004-08-15","v":95},{"d":"2004-09-01","v":85},{"d":"2004-09-15","v":101},{"d":"2004-10-01","v":92},{"d":"2004-10-15","v":80},{"d":"2004-11-01","v":75},{"d":"2004-11-15","v":68},{"d":"2004-12-01","v":60},{"d":"2004-12-15","v":52},
{"d":"2005-01-01","v":50},{"d":"2005-01-15","v":45},{"d":"2005-02-01","v":42},{"d":"2005-02-15","v":38},{"d":"2005-03-01","v":40},{"d":"2005-03-15","v":33},{"d":"2005-04-01","v":30},{"d":"2005-04-15","v":34},{"d":"2005-05-01","v":27},{"d":"2005-05-15","v":24},{"d":"2005-06-01","v":20},{"d":"2005-06-15","v":26},{"d":"2005-07-01","v":22},{"d":"2005-07-15","v":18},{"d":"2005-08-01","v":14},{"d":"2005-08-15","v":8},{"d":"2005-09-01","v":4},{"d":"2005-09-15","v":10},{"d":"2005-10-01","v":3},{"d":"2005-10-15","v":18},{"d":"2005-11-01","v":22},{"d":"2005-11-15","v":16},{"d":"2005-12-01","v":20},{"d":"2005-12-15","v":14},
{"d":"2006-01-01","v":2},{"d":"2006-01-15","v":-5},{"d":"2006-02-01","v":-14},{"d":"2006-02-15","v":-8},{"d":"2006-03-01","v":10},{"d":"2006-03-15","v":18},{"d":"2006-04-01","v":14},{"d":"2006-04-15","v":22},{"d":"2006-05-01","v":16},{"d":"2006-05-15","v":20},{"d":"2006-06-01","v":12},{"d":"2006-06-15","v":23},{"d":"2006-07-01","v":17},{"d":"2006-07-15","v":21},{"d":"2006-08-01","v":14},{"d":"2006-08-15","v":18},{"d":"2006-09-01","v":8},{"d":"2006-09-15","v":4},{"d":"2006-10-01","v":9},{"d":"2006-10-15","v":2},{"d":"2006-11-01","v":6},{"d":"2006-11-15","v":12},{"d":"2006-12-01","v":18},{"d":"2006-12-15","v":14},
{"d":"2007-01-01","v":20},{"d":"2007-01-15","v":11},{"d":"2007-02-01","v":16},{"d":"2007-02-15","v":9},{"d":"2007-03-01","v":18},{"d":"2007-03-15","v":12},{"d":"2007-04-01","v":20},{"d":"2007-04-15","v":14},{"d":"2007-05-01","v":10},{"d":"2007-05-15","v":16},{"d":"2007-06-01","v":23},{"d":"2007-06-15","v":12},{"d":"2007-07-01","v":18},{"d":"2007-07-15","v":6},{"d":"2007-08-01","v":15},{"d":"2007-08-15","v":22},{"d":"2007-09-01","v":10},{"d":"2007-09-15","v":12},{"d":"2007-10-01","v":4},{"d":"2007-10-15","v":8},{"d":"2007-11-01","v":2},{"d":"2007-11-15","v":20},{"d":"2007-12-01","v":38},{"d":"2007-12-15","v":45},
{"d":"2008-01-01","v":49},{"d":"2008-01-15","v":40},{"d":"2008-02-01","v":36},{"d":"2008-02-15","v":100},{"d":"2008-02-25","v":109},{"d":"2008-03-05","v":80},{"d":"2008-03-20","v":70},{"d":"2008-04-01","v":64},{"d":"2008-04-15","v":50},{"d":"2008-05-01","v":42},{"d":"2008-05-15","v":58},{"d":"2008-06-01","v":80},{"d":"2008-06-15","v":92},{"d":"2008-07-01","v":76},{"d":"2008-07-15","v":112},{"d":"2008-08-01","v":120},{"d":"2008-08-15","v":109},{"d":"2008-09-01","v":150},{"d":"2008-09-10","v":165},{"d":"2008-09-20","v":180},{"d":"2008-10-01","v":215},{"d":"2008-10-10","v":240},{"d":"2008-10-20","v":272},{"d":"2008-10-28","v":250},{"d":"2008-11-05","v":300},{"d":"2008-11-12","v":315},{"d":"2008-11-20","v":262},{"d":"2008-11-28","v":224},{"d":"2008-12-05","v":208},{"d":"2008-12-15","v":245},{"d":"2008-12-25","v":238},
{"d":"2009-01-05","v":252},{"d":"2009-01-15","v":260},{"d":"2009-01-25","v":350},{"d":"2009-02-01","v":372},{"d":"2009-02-08","v":400},{"d":"2009-02-15","v":387},{"d":"2009-02-22","v":356},{"d":"2009-03-01","v":340},{"d":"2009-03-08","v":314},{"d":"2009-03-15","v":250},{"d":"2009-03-25","v":240},{"d":"2009-04-05","v":276},{"d":"2009-04-15","v":252},{"d":"2009-04-25","v":238},{"d":"2009-05-05","v":228},{"d":"2009-05-15","v":220},{"d":"2009-05-25","v":215},{"d":"2009-06-05","v":200},{"d":"2009-06-15","v":190},{"d":"2009-06-25","v":185},{"d":"2009-07-05","v":168},{"d":"2009-07-15","v":160},{"d":"2009-08-01","v":150},{"d":"2009-08-15","v":137},{"d":"2009-09-01","v":128},{"d":"2009-09-15","v":122},{"d":"2009-10-01","v":118},{"d":"2009-10-15","v":132},{"d":"2009-11-01","v":110},{"d":"2009-11-15","v":120},{"d":"2009-12-01","v":102},{"d":"2009-12-15","v":108},
{"d":"2010-01-01","v":98},{"d":"2010-01-15","v":92},{"d":"2010-02-01","v":85},{"d":"2010-02-15","v":95},{"d":"2010-03-01","v":80},{"d":"2010-03-15","v":72},{"d":"2010-04-01","v":64},{"d":"2010-04-15","v":50},{"d":"2010-05-01","v":40},{"d":"2010-05-10","v":70},{"d":"2010-05-20","v":60},{"d":"2010-06-01","v":72},{"d":"2010-06-15","v":48},{"d":"2010-07-01","v":64},{"d":"2010-07-15","v":58},{"d":"2010-08-01","v":66},{"d":"2010-08-15","v":53},{"d":"2010-09-01","v":44},{"d":"2010-09-15","v":38},{"d":"2010-10-01","v":48},{"d":"2010-10-15","v":28},{"d":"2010-11-01","v":40},{"d":"2010-11-15","v":20},{"d":"2010-12-01","v":45},{"d":"2010-12-15","v":37},
{"d":"2011-01-01","v":62},{"d":"2011-01-15","v":70},{"d":"2011-02-01","v":65},{"d":"2011-02-15","v":75},{"d":"2011-03-01","v":60},{"d":"2011-03-15","v":68},{"d":"2011-04-01","v":72},{"d":"2011-04-15","v":64},{"d":"2011-05-01","v":70},{"d":"2011-05-15","v":62},{"d":"2011-06-01","v":75},{"d":"2011-06-15","v":68},{"d":"2011-07-01","v":80},{"d":"2011-07-15","v":95},{"d":"2011-07-25","v":165},{"d":"2011-07-30","v":140},{"d":"2011-08-05","v":110},{"d":"2011-08-15","v":98},{"d":"2011-09-01","v":90},{"d":"2011-09-15","v":85},{"d":"2011-10-01","v":72},{"d":"2011-10-15","v":65},{"d":"2011-11-01","v":58},{"d":"2011-11-15","v":70},{"d":"2011-12-01","v":62},{"d":"2011-12-15","v":55},
{"d":"2012-01-01","v":68},{"d":"2012-01-15","v":60},{"d":"2012-02-01","v":72},{"d":"2012-02-15","v":56},{"d":"2012-03-01","v":52},{"d":"2012-03-15","v":60},{"d":"2012-04-01","v":75},{"d":"2012-04-15","v":82},{"d":"2012-05-01","v":78},{"d":"2012-05-15","v":93},{"d":"2012-06-01","v":85},{"d":"2012-06-15","v":62},{"d":"2012-07-01","v":55},{"d":"2012-07-15","v":50},{"d":"2012-08-01","v":58},{"d":"2012-08-15","v":45},{"d":"2012-09-01","v":48},{"d":"2012-09-15","v":42},{"d":"2012-10-01","v":46},{"d":"2012-10-15","v":38},{"d":"2012-11-01","v":42},{"d":"2012-11-15","v":33},{"d":"2012-12-01","v":36},{"d":"2012-12-15","v":30},
{"d":"2013-01-01","v":34},{"d":"2013-01-15","v":27},{"d":"2013-02-01","v":20},{"d":"2013-02-15","v":24},{"d":"2013-03-01","v":15},{"d":"2013-03-15","v":18},{"d":"2013-04-01","v":10},{"d":"2013-04-15","v":13},{"d":"2013-05-01","v":30},{"d":"2013-05-15","v":40},{"d":"2013-06-01","v":35},{"d":"2013-06-15","v":43},{"d":"2013-07-01","v":32},{"d":"2013-07-15","v":38},{"d":"2013-08-01","v":31},{"d":"2013-08-15","v":36},{"d":"2013-09-01","v":30},{"d":"2013-09-15","v":26},{"d":"2013-10-01","v":30},{"d":"2013-10-15","v":22},{"d":"2013-11-01","v":26},{"d":"2013-11-15","v":45},{"d":"2013-12-01","v":52},{"d":"2013-12-15","v":57},
{"d":"2014-01-01","v":48},{"d":"2014-01-15","v":60},{"d":"2014-02-01","v":66},{"d":"2014-02-15","v":62},{"d":"2014-03-01","v":58},{"d":"2014-03-15","v":64},{"d":"2014-04-01","v":55},{"d":"2014-04-15","v":52},{"d":"2014-05-01","v":57},{"d":"2014-05-15","v":48},{"d":"2014-06-01","v":52},{"d":"2014-06-15","v":46},{"d":"2014-07-01","v":40},{"d":"2014-07-15","v":34},{"d":"2014-08-01","v":38},{"d":"2014-08-15","v":33},{"d":"2014-09-01","v":48},{"d":"2014-09-15","v":55},{"d":"2014-10-01","v":52},{"d":"2014-10-15","v":60},{"d":"2014-11-01","v":47},{"d":"2014-11-15","v":58},{"d":"2014-12-01","v":54},{"d":"2014-12-15","v":50},
{"d":"2015-01-01","v":58},{"d":"2015-01-15","v":66},{"d":"2015-02-01","v":52},{"d":"2015-02-15","v":82},{"d":"2015-03-01","v":60},{"d":"2015-03-15","v":48},{"d":"2015-04-01","v":56},{"d":"2015-04-15","v":41},{"d":"2015-05-01","v":65},{"d":"2015-05-15","v":72},{"d":"2015-06-01","v":79},{"d":"2015-06-15","v":68},{"d":"2015-07-01","v":75},{"d":"2015-07-15","v":63},{"d":"2015-08-01","v":55},{"d":"2015-08-10","v":95},{"d":"2015-08-20","v":107},{"d":"2015-09-01","v":100},{"d":"2015-09-15","v":92},{"d":"2015-10-01","v":90},{"d":"2015-10-10","v":78},{"d":"2015-10-20","v":68},{"d":"2015-11-01","v":60},{"d":"2015-11-15","v":55},
{"d":"2015-12-01","v":0},{"d":"2016-01-01","v":0},{"d":"2016-02-01","v":0},{"d":"2016-03-01","v":0},{"d":"2016-04-01","v":0},{"d":"2016-05-01","v":0},{"d":"2016-06-01","v":0},{"d":"2016-07-01","v":0},{"d":"2016-08-01","v":0},{"d":"2016-09-01","v":0},{"d":"2016-10-01","v":0},{"d":"2016-11-01","v":0},{"d":"2016-12-01","v":0},
{"d":"2017-01-01","v":0},{"d":"2017-02-01","v":0},{"d":"2017-03-01","v":0},{"d":"2017-04-01","v":0},{"d":"2017-05-01","v":0},{"d":"2017-06-01","v":0},{"d":"2017-07-01","v":0},{"d":"2017-08-01","v":0},{"d":"2017-09-01","v":0},{"d":"2017-10-01","v":0},{"d":"2017-11-01","v":0},{"d":"2017-12-01","v":0},
{"d":"2018-01-01","v":0},{"d":"2018-02-01","v":0},{"d":"2018-03-01","v":0},{"d":"2018-04-01","v":0},{"d":"2018-05-01","v":0},{"d":"2018-06-01","v":0},{"d":"2018-07-01","v":0},{"d":"2018-08-01","v":0},{"d":"2018-09-01","v":0},{"d":"2018-10-01","v":0},{"d":"2018-11-01","v":0},{"d":"2018-12-01","v":0},
{"d":"2019-01-01","v":0},{"d":"2019-02-01","v":0},{"d":"2019-03-01","v":0},{"d":"2019-04-01","v":0},{"d":"2019-05-01","v":0},{"d":"2019-06-01","v":0},{"d":"2019-07-01","v":0},{"d":"2019-08-01","v":0},{"d":"2019-09-01","v":0},{"d":"2019-10-01","v":0},{"d":"2019-11-01","v":0},{"d":"2019-12-01","v":0},
{"d":"2020-01-01","v":0},{"d":"2020-02-01","v":0},{"d":"2020-03-01","v":0},{"d":"2020-04-01","v":0},{"d":"2020-05-01","v":0},{"d":"2020-06-01","v":0},{"d":"2020-07-01","v":0},{"d":"2020-08-01","v":0},{"d":"2020-09-01","v":0},{"d":"2020-10-01","v":0},{"d":"2020-11-01","v":0},{"d":"2020-12-01","v":0},
{"d":"2021-01-01","v":0},{"d":"2021-02-01","v":0},{"d":"2021-03-01","v":0},{"d":"2021-04-01","v":0},{"d":"2021-05-01","v":0},{"d":"2021-06-01","v":0},{"d":"2021-07-01","v":0},{"d":"2021-08-01","v":0},{"d":"2021-09-01","v":0},{"d":"2021-10-01","v":0},{"d":"2021-11-01","v":0},{"d":"2021-12-01","v":0},{"d":"2021-12-20","v":0}
]
},
"vconcat": [
{
"width": 1698, "height": 38,
"view": {"fill": "#7CC67C", "stroke": "#A6A6A6"},
"data": {"values": [{"t": "ADAM Informe. Evolution historique des performances en euros pour des détentions de 4 ans (A04) à 10 ans (A10) avec les revenus connus distribués"}]},
"mark": {"type": "text", "align": "left", "baseline": "middle", "fontSize": 24.2, "font": "Lato", "color": "#000000"},
"encoding": {"text": {"field": "t", "type": "nominal"}, "x": {"value": 14}}
},
{
"spacing": 0,
"hconcat": [
{"width": 1, "height": 10, "data": {"values": [{}]}, "mark": {"type": "text", "text": ""}, "encoding": {}},
{
"width": 1564, "height": 720,
"title": {"text": ["Rendement du placement Suncorp Group Ltd \u00a0en fonction de la date de début pour des durées", "entre 4 (A04) et 10 ans (A10). Cotations entre janv 1997 et nov. 2025. Revenus DISTRIBUES depuis mars. 1997."], "anchor": "middle", "frame": "group", "orient": "top", "offset": -74, "dx": -20, "fontSize": 20.5, "font": "Lato", "fontWeight": "bold", "color": "#595959", "lineHeight": 41},
"layer": [
{"data": {"values": [{}]}, "mark": {"type": "rule", "color": "#A6A6A6", "strokeWidth": 2}, "encoding": {"y": {"datum": 20, "type": "quantitative"}}},
{"data": {"values": [{}]}, "mark": {"type": "rect", "color": "white"}, "encoding": {"x": {"datum": {"year": 2001, "month": 4, "date": 22}, "type": "temporal"}, "x2": {"datum": {"year": 2017, "month": 5, "date": 15}}, "y": {"datum": 518, "type": "quantitative"}, "y2": {"datum": 455}}},
{"data": {"name": "a04"},
 "mark": {"type": "point", "shape": "M-1,0L1,0M0,-1L0,1", "filled": false, "size": 64, "strokeWidth": 1.8, "opacity": 1},
 "encoding": {
  "x": {"field": "d", "type": "temporal", "scale": {"domain": [{"year": 1997, "month": 1, "date": 1}, {"year": 2021, "month": 12, "date": 28}]},
   "axis": {"values": [{"year":1997,"month":1,"date":1},{"year":1999,"month":1,"date":1},{"year":2001,"month":1,"date":1},{"year":2003,"month":1,"date":1},{"year":2005,"month":1,"date":1},{"year":2007,"month":1,"date":1},{"year":2009,"month":1,"date":1},{"year":2011,"month":1,"date":1},{"year":2013,"month":1,"date":1},{"year":2015,"month":1,"date":1},{"year":2017,"month":1,"date":1},{"year":2019,"month":1,"date":1},{"year":2021,"month":1,"date":1}],
    "format": "%d/%m/%Y", "labelFont": "Lato", "labelFontSize": 15, "labelColor": "#595959", "labelPadding": 30, "labelFlush": false, "ticks": false, "domain": false, "grid": true, "gridColor": "#D9D9D9", "gridWidth": 1.2, "title": null, "labelOverlap": false}},
  "y": {"field": "v", "type": "quantitative", "scale": {"domain": [-100, 500]},
   "axis": {"values": [-100, 0, 100, 200, 300, 400, 500], "labelExpr": "datum.value < 0 ? '- ' + abs(datum.value) + '%' : datum.value + '%'", "labelFont": "Lato", "labelFontSize": 15, "labelColor": "#595959", "labelPadding": 15, "ticks": false, "domain": false, "grid": true, "gridColor": "#D9D9D9", "gridWidth": 1.2, "title": null, "minExtent": 75}},
  "color": {"datum": "Rendement_A04", "type": "nominal",
   "scale": {"domain": ["Rendement_A04", "Rendement_A07", "Rendement_A10"], "range": ["#FFC000", "#0070C0", "#FF0000"]},
   "legend": {"orient": "none", "legendX": 1377, "legendY": 126, "title": null, "labelFont": "Lato", "labelFontSize": 25, "labelFontWeight": "bold", "labelColor": "#595959", "labelLimit": 400, "symbolType": "M-1,0L1,0M0,-1L0,1", "symbolSize": 40, "symbolStrokeWidth": 1.5, "symbolFillColor": "transparent", "rowPadding": 40, "labelOffset": 8, "fillColor": "white", "padding": 40}}
 }},
{"data": {"name": "a07"},
 "mark": {"type": "point", "shape": "M-1,0L1,0M0,-1L0,1", "filled": false, "size": 64, "strokeWidth": 1.8, "opacity": 1},
 "encoding": {"x": {"field": "d", "type": "temporal"}, "y": {"field": "v", "type": "quantitative"}, "color": {"datum": "Rendement_A07", "type": "nominal"}}},
{"data": {"name": "a10"},
 "mark": {"type": "point", "shape": "M-1,0L1,0M0,-1L0,1", "filled": false, "size": 64, "strokeWidth": 1.8, "opacity": 1},
 "encoding": {"x": {"field": "d", "type": "temporal"}, "y": {"field": "v", "type": "quantitative"}, "color": {"datum": "Rendement_A10", "type": "nominal"}}}
]
}
]
}
]
}
